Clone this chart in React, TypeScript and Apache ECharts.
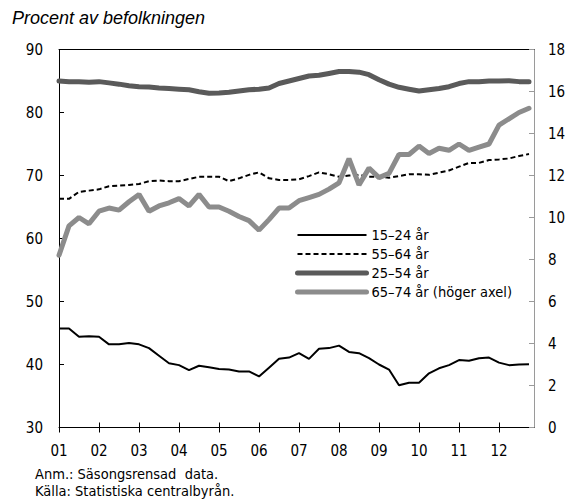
import React, { useEffect, useRef } from "react";
import * as echarts from "echarts";

// ---- Data ----
const years = [2001, 2002, 2003, 2004, 2005, 2006, 2007, 2008, 2009, 2010, 2011, 2012];
const quarterNames = ["K1", "K2", "K3", "K4"];
const quarters = years.flatMap((y) => quarterNames.map((q) => `${y} ${q}`));
const tickLabels = ["01", "02", "03", "04", "05", "06", "07", "08", "09", "10", "11", "12"];

const seriesNames = ["15–24 år", "55–64 år", "25–54 år", "65–74 år (höger axel)"];

const age1524 = [
  45.7, 45.7, 44.4, 44.5, 44.4, 43.2, 43.2, 43.4, 43.2, 42.6, 41.4, 40.2,
  39.9, 39.1, 39.8, 39.55, 39.3, 39.2, 38.9, 38.9, 38.1, 39.5, 40.9, 41.1,
  41.8, 40.9, 42.5, 42.6, 43.0, 42.0, 41.8, 41.0, 40.0, 39.2, 36.7, 37.1,
  37.1, 38.6, 39.4, 39.9, 40.7, 40.6, 41.0, 41.1, 40.3, 39.9, 40.0, 40.05,
];
const age5564 = [
  66.3, 66.3, 67.4, 67.6, 67.8, 68.3, 68.4, 68.5, 68.65, 69.1, 69.2, 69.1,
  69.1, 69.45, 69.8, 69.8, 69.8, 69.1, 69.55, 70.1, 70.5, 69.55, 69.3, 69.3,
  69.4, 69.9, 70.5, 70.2, 69.8, 70.0, 70.1, 69.8, 69.8, 69.65, 69.9, 70.2,
  70.2, 70.1, 70.45, 70.8, 71.4, 72.0, 72.0, 72.45, 72.55, 72.7, 73.1, 73.4,
];
const age2554 = [
  85.0, 84.9, 84.9, 84.8, 84.9, 84.7, 84.5, 84.25, 84.1, 84.05, 83.9, 83.8,
  83.7, 83.6, 83.3, 83.05, 83.1, 83.2, 83.4, 83.6, 83.7, 83.9, 84.6, 85.0,
  85.4, 85.8, 85.9, 86.2, 86.5, 86.5, 86.4, 86.0, 85.2, 84.5, 84.0, 83.7,
  83.4, 83.6, 83.8, 84.1, 84.6, 84.9, 84.9, 85.0, 85.0, 85.05, 84.9, 84.9,
];
const age6574 = [
  8.2, 9.6, 10.0, 9.7, 10.3, 10.45, 10.35, 10.75, 11.1, 10.3, 10.55, 10.7,
  10.9, 10.55, 11.1, 10.5, 10.5, 10.3, 10.05, 9.85, 9.4, 9.9, 10.45, 10.45,
  10.8, 10.95, 11.1, 11.35, 11.65, 12.8, 11.55, 12.35, 11.9, 12.1, 13.0, 13.0,
  13.4, 13.05, 13.3, 13.2, 13.5, 13.2, 13.35, 13.5, 14.4, 14.7, 15.0, 15.2,
];

const leftTicks = [30, 40, 50, 60, 70, 80, 90];
const rightTicks = [0, 2, 4, 6, 8, 10, 12, 14, 16, 18];

const NARROW = "'Liberation Sans Narrow', 'DejaVu Sans Condensed', 'Liberation Sans', sans-serif";
const REGULAR = "'Liberation Sans', Arial, sans-serif";

// quarter label -> position on the time axis (year + (quarter-1)/4)
function quarterPos(label: string): number {
  const [y, q] = label.split(" ");
  return Number(y) + (Number(q.slice(1)) - 1) / 4;
}
function toPoints(values: number[]) {
  return values.map((v, i) => [quarterPos(quarters[i]), v]);
}

export default function App() {
  const ref = useRef<HTMLDivElement>(null);

  useEffect(() => {
    document.body.style.margin = "0";
    if (!ref.current) return;
    const chart = echarts.init(ref.current, undefined, { renderer: "svg" });

    const xBase = {
      type: "value" as const,
      min: years[0],
      max: years[years.length - 1] + 0.875,
      interval: 1,
      splitLine: { show: false },
    };

    chart.setOption({
      animation: false,
      backgroundColor: "#ffffff",
      grid: { left: 59, right: 37, top: 49.5, bottom: 76.5, containLabel: false },
      legend: {
        show: true,
        orient: "vertical",
        left: 295,
        top: 225.5,
        padding: 0,
        itemWidth: 69,
        itemHeight: 14,
        itemGap: 0,
        selectedMode: false,
        itemStyle: { opacity: 0, borderWidth: 0 },
        lineStyle: { width: "inherit", type: "inherit", cap: "inherit" },
        data: seriesNames,
        textStyle: { fontSize: 14.5, lineHeight: 19, color: "#000", fontFamily: NARROW },
      },
      xAxis: [
        {
          ...xBase,
          position: "bottom",
          axisLine: { show: true, onZero: false, lineStyle: { color: "#000", width: 1 } },
          axisTick: { show: true, inside: false, length: 5, customValues: years, lineStyle: { color: "#000" } },
          axisLabel: {
            show: true,
            customValues: years,
            margin: 16,
            fontSize: 15,
            color: "#000",
            fontFamily: NARROW,
            formatter: (v: number) => {
              const idx = years.indexOf(Math.round(v));
              return idx >= 0 && Math.abs(v - years[idx]) < 1e-6 ? tickLabels[idx] : "";
            },
          },
        },
        {
          ...xBase,
          position: "bottom",
          axisLine: { show: false, onZero: false },
          axisTick: { show: true, inside: true, length: 5, customValues: years, lineStyle: { color: "#000" } },
          axisLabel: { show: false },
        },
        {
          ...xBase,
          position: "top",
          axisLine: { show: true, onZero: false, lineStyle: { color: "#000", width: 1 } },
          axisTick: { show: false },
          axisLabel: { show: false },
        },
      ],
      yAxis: [
        {
          type: "value",
          position: "left",
          min: leftTicks[0],
          max: leftTicks[leftTicks.length - 1],
          interval: 10,
          splitLine: { show: false },
          axisLine: { show: true, onZero: false, lineStyle: { color: "#000", width: 1 } },
          axisTick: { show: true, inside: true, length: 5, lineStyle: { color: "#000" } },
          axisLabel: { margin: 16, fontSize: 15, color: "#000", fontFamily: NARROW },
        },
        {
          type: "value",
          position: "right",
          min: rightTicks[0],
          max: rightTicks[rightTicks.length - 1],
          interval: 2,
          splitLine: { show: false },
          axisLine: { show: true, onZero: false, lineStyle: { color: "#9a9a9a", width: 1 } },
          axisTick: { show: true, inside: true, length: 5, lineStyle: { color: "#9a9a9a" } },
          axisLabel: { margin: 14, fontSize: 15, color: "#000", fontFamily: NARROW },
        },
      ],
      series: [
        {
          name: seriesNames[0],
          type: "line",
          xAxisIndex: 0,
          yAxisIndex: 0,
          data: toPoints(age1524),
          symbol: "none",
          itemStyle: { color: "#000" },
          lineStyle: { color: "#000", width: 2 },
        },
        {
          name: seriesNames[1],
          type: "line",
          xAxisIndex: 0,
          yAxisIndex: 0,
          data: toPoints(age5564),
          symbol: "none",
          itemStyle: { color: "#000" },
          lineStyle: { color: "#000", width: 2, type: [5, 3] },
        },
        {
          name: seriesNames[2],
          type: "line",
          xAxisIndex: 0,
          yAxisIndex: 0,
          data: toPoints(age2554),
          symbol: "none",
          itemStyle: { color: "#5a5a5a" },
          lineStyle: { color: "#5a5a5a", width: 5, cap: "round" },
        },
        {
          name: seriesNames[3],
          type: "line",
          xAxisIndex: 0,
          yAxisIndex: 1,
          data: toPoints(age6574),
          symbol: "none",
          itemStyle: { color: "#8c8c8c" },
          lineStyle: { color: "#8c8c8c", width: 5, cap: "round" },
        },
      ],
      graphic: [
        {
          type: "text",
          left: 12,
          top: 9,
          style: {
            text: "Procent av befolkningen",
            font: `italic 18px ${REGULAR}`,
            fill: "#000",
          },
        },
        {
          type: "text",
          left: 35,
          top: 466,
          style: {
            text: "Anm.: Säsongsrensad  data.",
            font: `14.5px ${NARROW}`,
            fill: "#000",
          },
        },
        {
          type: "text",
          left: 35,
          top: 483,
          style: {
            text: "Källa: Statistiska centralbyrån.",
            font: `14.5px ${NARROW}`,
            fill: "#000",
          },
        },
      ],
    });

    return () => {
      chart.dispose();
    };
  }, []);

  return <div ref={ref} style={{ width: 571, height: 504 }} />;
}
